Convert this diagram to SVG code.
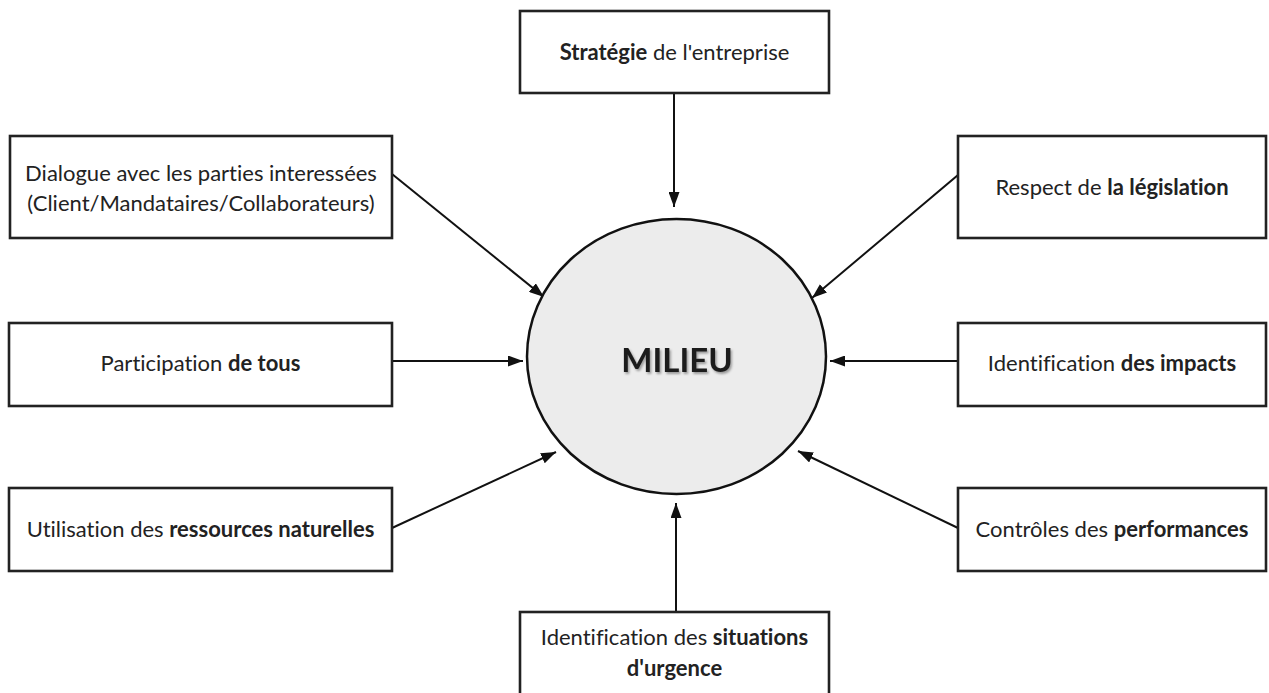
<svg xmlns="http://www.w3.org/2000/svg" width="1269" height="693" viewBox="0 0 1269 693">
  <style>
    .box { fill: #ffffff; stroke: #222222; stroke-width: 2.6; }
    .lbl { font-family: Lato, "Liberation Sans", sans-serif; font-size: 22px; fill: #222222; text-anchor: middle; font-variant-ligatures: none; }
    .b { font-weight: bold; }
    .conn { stroke: #111111; stroke-width: 2; fill: none; marker-end: url(#arrow); }
    .hub { fill: #ececec; stroke: #111111; stroke-width: 2.5; }
    .hubtxt { font-family: Lato, "Liberation Sans", sans-serif; font-size: 33px; font-weight: bold; fill: #1e1e1e; text-anchor: middle; }
  </style>
  <defs>
    <marker id="arrow" markerUnits="userSpaceOnUse" markerWidth="15" markerHeight="11" refX="15" refY="5.5" orient="auto">
      <path d="M0,0 L15,5.5 L0,11 z" fill="#111111"/>
    </marker>
    <filter id="shadow" x="-20%" y="-30%" width="140%" height="160%">
      <feDropShadow dx="1.5" dy="2" stdDeviation="1.2" flood-color="#000000" flood-opacity="0.35"/>
    </filter>
  </defs>

  <rect width="1269" height="693" fill="#ffffff"/>

  <!-- connectors: every box points at the central ellipse -->
  <g id="connectors">
    <path class="conn" d="M674,93 L674,207"/>
    <path class="conn" d="M392,174 L544,297"/>
    <path class="conn" d="M958,175 L812,298"/>
    <path class="conn" d="M392,361 L523,361"/>
    <path class="conn" d="M958,361 L830,361"/>
    <path class="conn" d="M392,528 L556,452"/>
    <path class="conn" d="M958,528 L798,451"/>
    <path class="conn" d="M676,612 L676,503"/>
  </g>

  <!-- central hub -->
  <g id="milieu">
    <ellipse class="hub" cx="676.5" cy="356.5" rx="149.5" ry="137.5"/>
    <text class="hubtxt" x="677" y="372" filter="url(#shadow)">MILIEU</text>
  </g>

  <g id="strategie">
    <rect class="box" x="520" y="11" width="309" height="82"/>
    <text class="lbl" x="674.5" y="60"><tspan class="b">Stratégie</tspan> de l'entreprise</text>
  </g>

  <g id="dialogue">
    <rect class="box" x="10" y="136" width="382" height="102"/>
    <text class="lbl" x="201" y="181">Dialogue avec les parties interessées</text>
    <text class="lbl" x="201" y="211">(Client/Mandataires/Collaborateurs)</text>
  </g>

  <g id="legislation">
    <rect class="box" x="958" y="136" width="308" height="102"/>
    <text class="lbl" x="1112" y="195">Respect de <tspan class="b">la législation</tspan></text>
  </g>

  <g id="participation">
    <rect class="box" x="9" y="323" width="383" height="83"/>
    <text class="lbl" x="200.5" y="371">Participation <tspan class="b">de tous</tspan></text>
  </g>

  <g id="impacts">
    <rect class="box" x="958" y="323" width="308" height="83"/>
    <text class="lbl" x="1112" y="371">Identification <tspan class="b">des impacts</tspan></text>
  </g>

  <g id="ressources">
    <rect class="box" x="9" y="488" width="383" height="83"/>
    <text class="lbl" x="200.5" y="537">Utilisation des <tspan class="b">ressources naturelles</tspan></text>
  </g>

  <g id="performances">
    <rect class="box" x="958" y="488" width="308" height="83"/>
    <text class="lbl" x="1112" y="537">Contrôles des <tspan class="b">performances</tspan></text>
  </g>

  <g id="urgence">
    <rect class="box" x="520" y="612" width="309" height="90"/>
    <text class="lbl" x="674.5" y="645">Identification des <tspan class="b">situations</tspan></text>
    <text class="lbl" x="674.5" y="676"><tspan class="b">d'urgence</tspan></text>
  </g>
</svg>
